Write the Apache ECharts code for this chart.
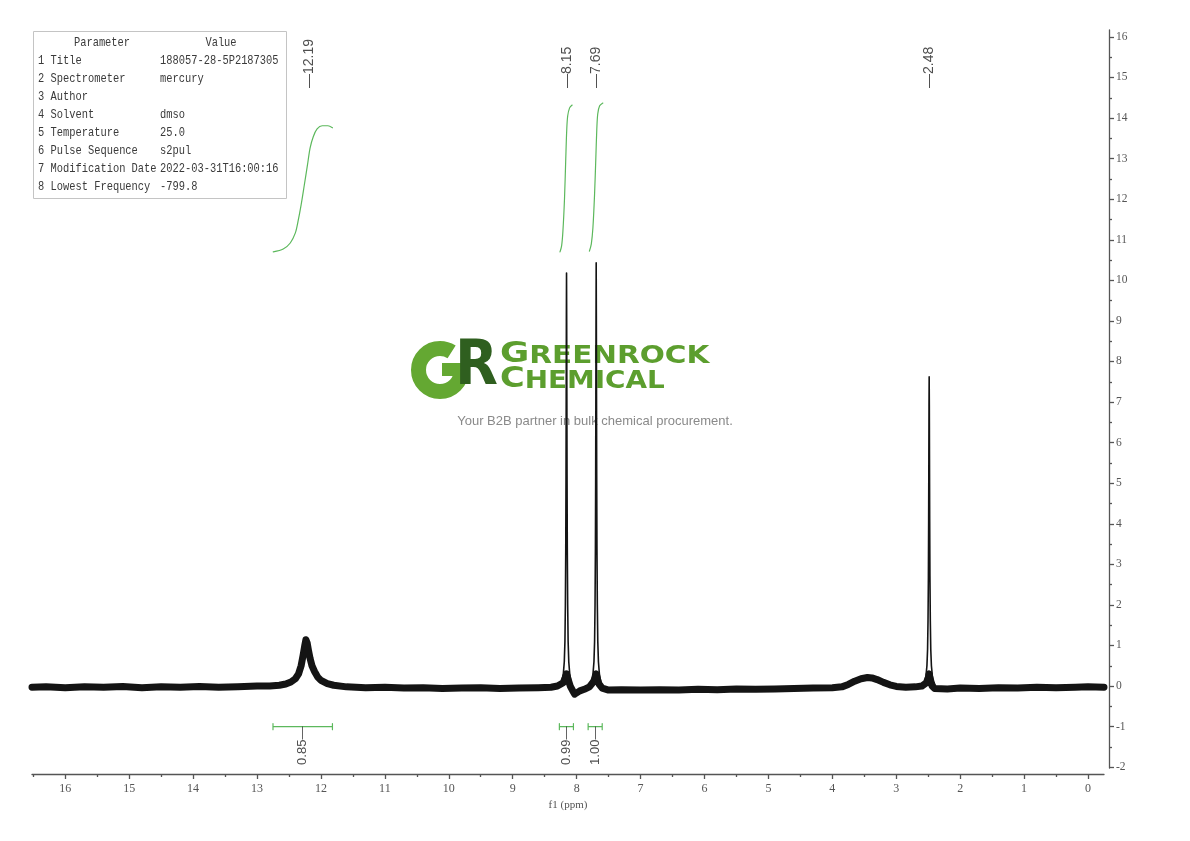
<!DOCTYPE html>
<html><head><meta charset="utf-8">
<script src="https://cdn.jsdelivr.net/npm/echarts@6/dist/echarts.min.js"></script>
<style>html,body{margin:0;padding:0;background:#fff}#c{width:1190px;height:841px}</style>
</head><body><div id="c"></div>
<script>
// ---- spectrum data (ppm, intensity) ----
const baseline = [
 [16.52,-0.03],[16.3,-0.02],[16.0,-0.04],[15.7,-0.02],[15.4,-0.03],[15.1,-0.01],[14.8,-0.04],
 [14.5,-0.02],[14.2,-0.03],[13.9,-0.01],[13.6,-0.03],[13.3,-0.02],[13.0,0.0],[12.8,0.0],
 [12.65,0.02],[12.55,0.05],[12.47,0.1],[12.40,0.18],[12.35,0.3],[12.31,0.5],[12.28,0.75],
 [12.255,0.98],[12.235,1.14],[12.215,1.06],[12.195,0.88],[12.17,0.68],[12.14,0.5],[12.1,0.36],
 [12.05,0.22],[12.0,0.14],[11.9,0.06],[11.8,0.02],[11.6,-0.02],[11.3,-0.04],[11.0,-0.03],
 [10.7,-0.05],[10.4,-0.04],[10.1,-0.06],[9.8,-0.05],[9.5,-0.04],[9.2,-0.06],[8.9,-0.05],
 [8.6,-0.04],[8.4,-0.03],[8.3,0.0],[8.21,0.08],[8.18,0.2],[8.158,0.3],[8.13,0.15],[8.1,0.0],
 [8.06,-0.12],[8.03,-0.2],[8.0,-0.17],[7.95,-0.12],[7.88,-0.08],[7.8,-0.02],[7.74,0.1],
 [7.71,0.2],[7.694,0.3],[7.68,0.2],[7.65,0.05],[7.6,-0.05],[7.5,-0.1],[7.3,-0.09],[7.0,-0.1],
 [6.7,-0.09],[6.4,-0.1],[6.1,-0.08],[5.8,-0.09],[5.5,-0.07],[5.2,-0.08],[4.9,-0.07],[4.6,-0.06],
 [4.3,-0.05],[4.0,-0.04],[3.85,-0.02],[3.75,0.04],[3.65,0.12],[3.55,0.18],[3.45,0.21],
 [3.38,0.2],[3.3,0.16],[3.2,0.09],[3.1,0.03],[3.0,-0.01],[2.85,-0.03],[2.7,-0.02],[2.6,0.0],
 [2.53,0.08],[2.5,0.2],[2.485,0.3],[2.47,0.15],[2.44,0.0],[2.4,-0.06],[2.2,-0.07],[2.0,-0.05],
 [1.7,-0.06],[1.4,-0.04],[1.1,-0.05],[0.8,-0.03],[0.5,-0.04],[0.2,-0.03],[0.0,-0.02],[-0.25,-0.03]
];
const peak815 = [
 [8.258,0.05],[8.228,0.15],[8.208,0.3],[8.193,0.6],[8.183,1.1],[8.176,2.0],[8.170,3.4],
 [8.166,5.2],[8.163,7.2],[8.1605,9.0],[8.158,10.18],[8.1555,9.0],[8.153,7.2],[8.150,5.2],
 [8.146,3.4],[8.140,2.0],[8.133,1.1],[8.123,0.6],[8.108,0.3],[8.088,0.1],[8.06,-0.1]
];
const peak769 = [
 [7.80,0.02],[7.764,0.15],[7.744,0.3],[7.729,0.6],[7.719,1.1],[7.712,2.0],[7.706,3.4],
 [7.702,5.2],[7.699,7.2],[7.6965,9.1],[7.694,10.43],[7.6915,9.1],[7.689,7.2],[7.686,5.2],
 [7.682,3.4],[7.676,2.0],[7.669,1.1],[7.659,0.6],[7.644,0.3],[7.624,0.12],[7.59,-0.03]
];
const peak248 = [
 [2.59,0.02],[2.555,0.12],[2.535,0.25],[2.52,0.5],[2.51,0.9],[2.503,1.6],[2.497,2.7],
 [2.493,4.1],[2.49,5.6],[2.4875,6.9],[2.485,7.62],[2.4825,6.9],[2.48,5.6],[2.477,4.1],
 [2.473,2.7],[2.467,1.6],[2.46,0.9],[2.45,0.5],[2.435,0.25],[2.415,0.12],[2.38,-0.03]
];
// integral curves
const integral1 = [
 [12.746,10.70],[12.59,10.77],[12.48,10.92],[12.40,11.17],[12.36,11.44],[12.31,11.86],
 [12.26,12.35],[12.21,12.85],[12.17,13.26],[12.12,13.54],[12.06,13.73],[11.98,13.81],
 [11.89,13.81],[11.82,13.76]
];
const integral2 = [
 [8.26,10.70],[8.235,10.85],[8.215,11.2],[8.19,12.0],[8.17,13.0],[8.155,13.7],[8.14,14.05],
 [8.11,14.25],[8.07,14.32]
];
const integral3 = [
 [7.80,10.72],[7.77,10.9],[7.745,11.3],[7.72,12.1],[7.70,13.0],[7.685,13.7],[7.67,14.1],
 [7.64,14.3],[7.59,14.37]
];
const peakShifts = [12.19, 8.15, 7.69, 2.48];
const integralRanges = [[12.75, 11.82], [8.27, 8.05], [7.82, 7.60]];
const integralValues = ['0.85', '0.99', '1.00'];
// ticks
const xMajorTicks = [0,1,2,3,4,5,6,7,8,9,10,11,12,13,14,15,16];
const xMinorTicks = [0.5,1.5,2.5,3.5,4.5,5.5,6.5,7.5,8.5,9.5,10.5,11.5,12.5,13.5,14.5,15.5,16.5];
const yMajorTicks = [-2,-1,0,1,2,3,4,5,6,7,8,9,10,11,12,13,14,15,16];
const yMinorTicks = [-1.5,-0.5,0.5,1.5,2.5,3.5,4.5,5.5,6.5,7.5,8.5,9.5,10.5,11.5,12.5,13.5,14.5,15.5];
// parameter table
const paramNames = ['1 Title','2 Spectrometer','3 Author','4 Solvent','5 Temperature','6 Pulse Sequence','7 Modification Date','8 Lowest Frequency'];
const paramValues = ['188057-28-5P2187305','mercury','','dmso','25.0','s2pul','2022-03-31T16:00:16','-799.8'];

const X_MIN = -0.25, X_MAX = 16.52, Y_MIN = -2.02, Y_MAX = 16.17;
const GREEN = '#5cb85c';
const AX = '#555';
const SERIF = '"Liberation Serif", "DejaVu Serif", serif';
const MONO = '"Liberation Mono", monospace';
const SANS = '"Liberation Sans", Arial, sans-serif';
const CAP = 0.075;

const chart = echarts.init(document.getElementById('c'));

function xAxisDef(major) {
  return {
    type: 'value', min: X_MIN, max: X_MAX, inverse: true, position: 'bottom', offset: 6,
    axisLine: { show: major, onZero: false, lineStyle: { color: AX, width: 1.3 } },
    axisTick: { show: true, customValues: major ? xMajorTicks : xMinorTicks, length: major ? 5 : 3,
      lineStyle: { color: AX, width: 1.3 } },
    axisLabel: major ? { show: true, customValues: xMajorTicks, margin: 9, fontFamily: SERIF, fontSize: 12, color: AX }
                     : { show: false },
    splitLine: { show: false },
    name: major ? 'f1 (ppm)' : '', nameLocation: 'middle', nameGap: 21,
    nameTextStyle: { fontFamily: SERIF, fontSize: 11, color: AX }
  };
}
function yAxisDef(major) {
  return {
    type: 'value', min: Y_MIN, max: Y_MAX, position: 'right', offset: 5,
    axisLine: { show: major, onZero: false, lineStyle: { color: AX, width: 1.3 } },
    axisTick: { show: true, customValues: major ? yMajorTicks : yMinorTicks, length: major ? 5 : 3,
      lineStyle: { color: AX, width: 1.3 } },
    axisLabel: major ? { show: true, customValues: yMajorTicks, margin: 7, fontFamily: SERIF, fontSize: 11.5, color: AX }
                     : { show: false },
    splitLine: { show: false }
  };
}
function lineSeries(data, color, width, z) {
  return { type: 'line', data: data, symbol: 'none', xAxisIndex: 0, yAxisIndex: 0, z: z,
    lineStyle: { color: color, width: width, join: 'round', cap: 'round' }, silent: true, animation: false };
}

const series = [];
series.push(lineSeries(baseline, '#141414', 7, 3));
[peak815, peak769, peak248].forEach(p => series.push(lineSeries(p, '#141414', 1.6, 4)));
[integral1, integral2, integral3].forEach(p => {
  const s = lineSeries(p, GREEN, 1.2, 4); s.smooth = 0.3; series.push(s);
});
integralRanges.forEach(r => {
  const a = r[0], b = r[1];
  series.push(lineSeries([[a, -1 + CAP], [a, -1 - CAP], [a, -1], [b, -1], [b, -1 + CAP], [b, -1 - CAP]], GREEN, 1.2, 4));
});
series.push({
  type: 'scatter', symbolSize: 1, itemStyle: { color: 'rgba(0,0,0,0)' }, z: 5, silent: true,
  data: peakShifts.map(v => [v, 14.74]),
  label: { show: true, position: 'inside', rotate: 90, align: 'left', verticalAlign: 'middle',
    fontFamily: SANS, fontSize: 14, color: '#222', formatter: p => '\u2014' + p.value[0].toFixed(2) }
});
series.push({
  type: 'scatter', symbolSize: 1, itemStyle: { color: 'rgba(0,0,0,0)' }, z: 5, silent: true,
  data: integralRanges.map((r, i) => ({ value: [(r[0] + r[1]) / 2, -1.0], name: integralValues[i] })),
  label: { show: true, position: 'inside', rotate: 90, align: 'right', verticalAlign: 'middle',
    fontFamily: SANS, fontSize: 13, color: '#222', formatter: p => p.name + '\u2014' }
});

const graphic = [];
graphic.push({ type: 'rect', z: 1, shape: { x: 33.5, y: 31.5, width: 253, height: 167 },
  style: { fill: '#fff', stroke: '#c4c4c4', lineWidth: 1 } });
const tStyle = (t, extra) => Object.assign({ text: t, fontFamily: MONO, fontSize: 13, fill: '#3a3a3a', verticalAlign: 'middle' }, extra || {});
graphic.push({ type: 'text', z: 2, x: 102, y: 43, scaleX: 0.8, style: tStyle('Parameter', { align: 'center' }) });
graphic.push({ type: 'text', z: 2, x: 221, y: 43, scaleX: 0.8, style: tStyle('Value', { align: 'center' }) });
paramNames.forEach((n, i) => {
  graphic.push({ type: 'text', z: 2, x: 38, y: 61 + i * 18, scaleX: 0.8, style: tStyle(n) });
  graphic.push({ type: 'text', z: 2, x: 160, y: 61 + i * 18, scaleX: 0.8, style: tStyle(paramValues[i]) });
});
// watermark logo
graphic.push({ type: 'arc', z: 0, shape: { cx: 440, cy: 370, r: 21.5, startAngle: 0, endAngle: Math.PI * 2 - 1.0, clockwise: true },
  style: { stroke: '#64a832', lineWidth: 15, fill: null } });
graphic.push({ type: 'rect', z: 0, shape: { x: 442, y: 363, width: 27, height: 13 }, style: { fill: '#64a832' } });
graphic.push({ type: 'text', z: 0, x: 455, y: 368, scaleX: 0.9,
  style: { text: 'R', fontFamily: '"DejaVu Sans"', fontWeight: 'bold', fontSize: 62, fill: '#2f5f1f', verticalAlign: 'middle' } });
graphic.push({ type: 'text', z: 0, x: 500, y: 354, scaleX: 1.23,
  style: { text: '{a|G}{b|REENROCK}', verticalAlign: 'middle',
    rich: { a: { fontFamily: '"DejaVu Sans"', fontWeight: 'bold', fontSize: 29, fill: '#5c9e2e', verticalAlign: 'bottom' },
            b: { fontFamily: '"DejaVu Sans"', fontWeight: 'bold', fontSize: 24, fill: '#5c9e2e', verticalAlign: 'bottom' } } } });
graphic.push({ type: 'text', z: 0, x: 500, y: 379, scaleX: 1.16,
  style: { text: '{a|C}{b|HEMICAL}', verticalAlign: 'middle',
    rich: { a: { fontFamily: '"DejaVu Sans"', fontWeight: 'bold', fontSize: 29, fill: '#5c9e2e', verticalAlign: 'bottom' },
            b: { fontFamily: '"DejaVu Sans"', fontWeight: 'bold', fontSize: 24, fill: '#5c9e2e', verticalAlign: 'bottom' } } } });
graphic.push({ type: 'text', z: 0, x: 595, y: 421,
  style: { text: 'Your B2B partner in bulk chemical procurement.', fontFamily: SANS, fontSize: 13, fill: '#8a8a8a', align: 'center', verticalAlign: 'middle' } });

chart.setOption({
  animation: false,
  backgroundColor: '#fff',
  grid: { left: 32, right: 86, top: 30, bottom: 73 },
  xAxis: [xAxisDef(true), xAxisDef(false)],
  yAxis: [yAxisDef(true), yAxisDef(false)],
  series: series,
  graphic: graphic
});
</script></body></html>
